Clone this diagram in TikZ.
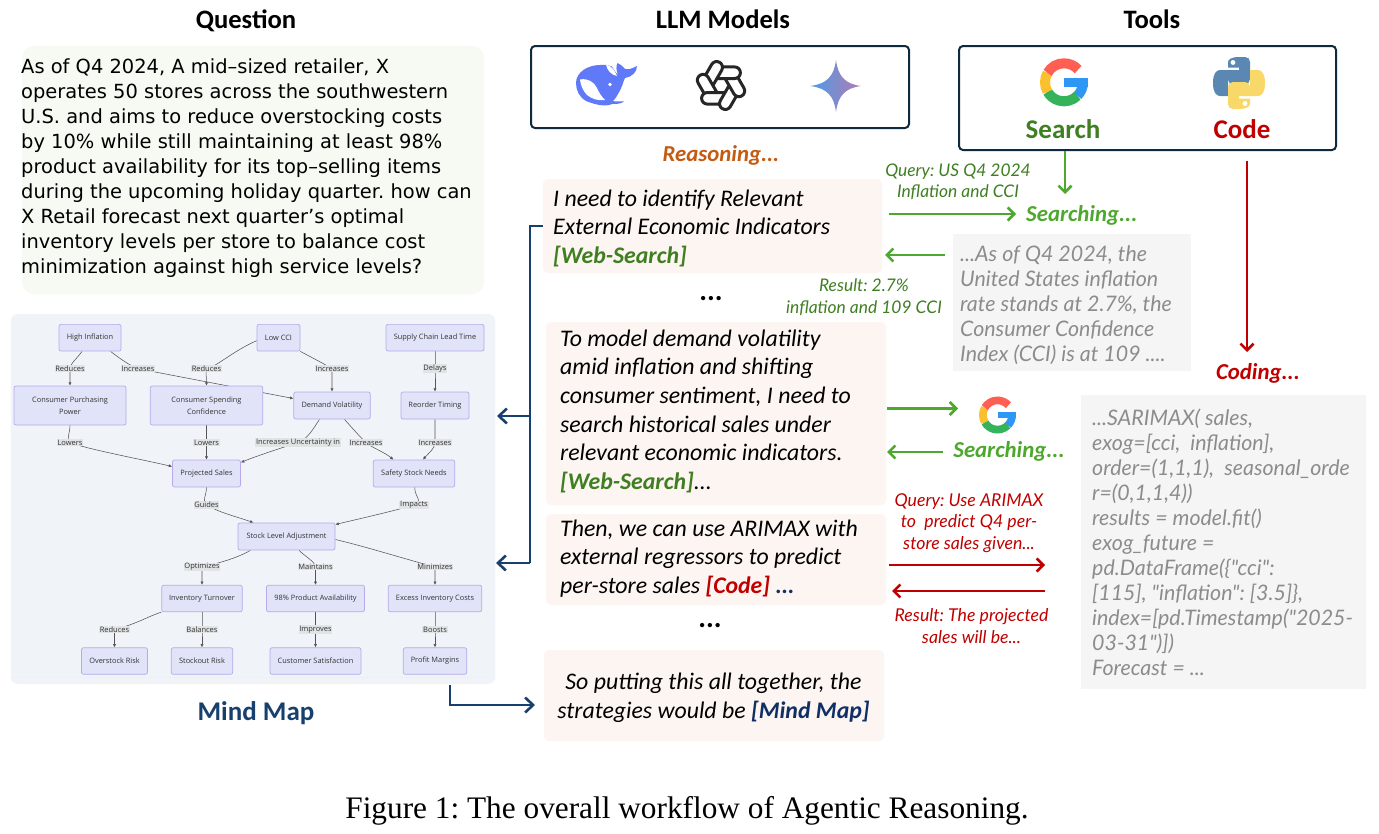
\documentclass[tikz,border=0pt]{standalone}
\usepackage{fontspec}
\setmainfont{Carlito}
\newfontfamily\osans{Open Sans}
\newfontfamily\dsans{DejaVu Sans}
\newfontfamily\lato{Lato}
\newfontfamily\capfont{Liberation Serif}
\usetikzlibrary{arrows.meta,calc}
\pgfdeclarelayer{edges}
\pgfsetlayers{edges,main}
\definecolor{panelbg}{HTML}{F0F4F8}
\definecolor{qbg}{HTML}{F6FAF3}
\definecolor{pinkbg}{HTML}{FDF5F1}
\definecolor{graybg}{HTML}{F5F5F5}
\definecolor{graytx}{HTML}{8C8C8C}
\definecolor{mmfill}{HTML}{E1E3F8}
\definecolor{mmline}{HTML}{B7A9EA}
\definecolor{mmedge}{HTML}{555555}
\definecolor{lblbg}{HTML}{E0E4E5}
\definecolor{navy}{HTML}{17406E}
\definecolor{dnavy}{HTML}{0F2F66}
\definecolor{boxline}{HTML}{0E2A3F}
\definecolor{greenA}{HTML}{4EA72E}
\definecolor{greenD}{HTML}{3F7F22}
\definecolor{redD}{HTML}{C00000}
\definecolor{orangeD}{HTML}{C55A11}
\definecolor{whaleblue}{HTML}{6079F8}
\definecolor{gred}{HTML}{FF5F52}
\definecolor{gyel}{HTML}{FBC02D}
\definecolor{ggrn}{HTML}{34B35A}
\definecolor{gblu}{HTML}{2E96F5}
\definecolor{pyblue}{HTML}{5A88B3}
\definecolor{pyyel}{HTML}{F8D869}
\definecolor{gemblue}{HTML}{4C9CE8}
\definecolor{gempurp}{HTML}{B27CB0}
\newcommand\googleicon[4]{%
  \begin{scope}[shift={(#1,#2)},x=#3pt,y=#3pt,line width=#4pt]
    \fill[gblu] (0,4.2) rectangle (24,-4.5);
    \draw[gblu] (19,0) arc (0:-45:19);
    \draw[ggrn] (-45:19) arc (-45:-150:19);
    \draw[gyel] (-150:19) arc (-150:-210:19);
    \draw[gred] (-210:19) arc (-210:-318:19);
  \end{scope}}
\tikzset{
  titletx/.style={font=\fontsize{26.6}{30}\selectfont\bfseries,text=black},
  panelbox/.style={fill=panelbg,rounded corners=7pt,draw=none,minimum width=484.5pt,minimum height=370pt,inner sep=0pt},
  mm/.style={draw=mmline,fill=mmfill,line width=.7pt,rounded corners=2pt,inner sep=0pt,align=center,text=black!80,font=\osans\fontsize{7.4}{11.6}\selectfont},
  lbl/.style={fill=lblbg,inner sep=.7pt,text=black!80,font=\osans\fontsize{7.5}{8}\selectfont},
  medge/.style={draw=mmedge,line width=.55pt,-{Latex[length=3.4pt,width=3.2pt]}},
  toolbox/.style={draw=boxline,line width=2pt,rounded corners=4pt,inner sep=0pt},
  reason/.style={fill=pinkbg,rounded corners=5pt,inner sep=0pt},
  reasontx/.style={font=\fontsize{23.8}{28.6}\selectfont\itshape,align=left,inner sep=0pt,anchor=north west,text=black},
  graybox/.style={fill=graybg,inner sep=0pt},
  graytext/.style={font=\lato\fontsize{21.4}{25}\selectfont\itshape,text=graytx,align=left,inner sep=0pt,anchor=north west},
  smallg/.style={font=\lato\fontsize{17.4}{21.5}\selectfont\itshape,text=greenD,align=center,inner sep=0pt},
  smallr/.style={font=\lato\fontsize{17.7}{21.6}\selectfont\itshape,text=redD,align=center,inner sep=0pt},
  status/.style={font=\fontsize{22.8}{26}\selectfont\bfseries\itshape,inner sep=0pt},
  dotstx/.style={font=\fontsize{29}{29}\selectfont\bfseries,inner sep=0pt},
  garrow/.style={draw=greenA,line width=2.6pt,-{Straight Barb[length=6.5pt,width=13pt]}},
  rarrow/.style={draw=redD,line width=2.6pt,-{Straight Barb[length=6.5pt,width=13pt]}},
  barrow/.style={draw=navy,line width=2.6pt,-{Straight Barb[length=8pt,width=15pt]}},
}
\begin{document}
\frenchspacing
\begin{tikzpicture}[x=1pt,y=-1pt]
\useasboundingbox (0,0) rectangle (1379,833);
\begin{pgfonlayer}{edges}
\fill[white] (0,0) rectangle (1379,833);
\end{pgfonlayer}

% titles
\node[titletx] (tq) at (246,21) {Question};
\node[titletx] (tl) at (723,19) {LLM Models};
\node[titletx] (tt) at (1152,19) {Tools};

% question
\node[fill=qbg,rounded corners=12pt,minimum width=462pt,minimum height=248pt,inner sep=0pt] (qbox) at (253,170) {};
\node[inner sep=0pt,anchor=north west,align=left,text=black,font=\dsans\fontsize{19.45}{25.05}\selectfont] (qtext) at (21,58.5) {As of Q4 2024, A mid–sized retailer, X\\operates 50 stores across the southwestern\\U.S. and aims to reduce overstocking costs\\by 10\% while still maintaining at least 98\%\\product availability for its top–selling items\\during the upcoming holiday quarter. how can\\X Retail forecast next quarter’s optimal\\inventory levels per store to balance cost\\minimization against high service levels?};

% mind map panel
\begin{pgfonlayer}{edges}
\node[panelbox] (panel) at (253,499) {};
\draw[draw=black!6,line width=1pt] (11,677) -- (488,677);
\end{pgfonlayer}

\node[mm,minimum width=62pt,minimum height=26.7pt] (hi) at (90,337.7) {High Inflation};
\node[mm,minimum width=43pt,minimum height=26.7pt] (lc) at (278.5,337.7) {Low CCI};
\node[mm,minimum width=98pt,minimum height=26.7pt] (sc) at (435,337.7) {Supply Chain Lead Time};
\node[mm,minimum width=112pt,minimum height=39pt] (cpp) at (70,405.5) {Consumer Purchasing\\Power};
\node[mm,minimum width=112.5pt,minimum height=39pt] (csc) at (206.5,405.5) {Consumer Spending\\Confidence};
\node[mm,minimum width=76.5pt,minimum height=27pt] (dv) at (332,405.5) {Demand Volatility};
\node[mm,minimum width=68pt,minimum height=27pt] (rt) at (435,405.5) {Reorder Timing};
\node[mm,minimum width=68pt,minimum height=27pt] (ps) at (206.5,473.5) {Projected Sales};
\node[mm,minimum width=81.5pt,minimum height=27pt] (ss) at (414,473.5) {Safety Stock Needs};
\node[mm,minimum width=97pt,minimum height=27pt] (sl) at (286.5,536.5) {Stock Level Adjustment};
\node[mm,minimum width=80.5pt,minimum height=26.5pt] (it) at (202,598.5) {Inventory Turnover};
\node[mm,minimum width=98pt,minimum height=26.5pt] (pa) at (315.5,598.5) {98\% Product Availability};
\node[mm,minimum width=93.5pt,minimum height=26.5pt] (ei) at (435,598.5) {Excess Inventory Costs};
\node[mm,minimum width=66pt,minimum height=26.5pt] (or) at (114.5,661) {Overstock Risk};
\node[mm,minimum width=61.5pt,minimum height=26.5pt] (sr) at (202,661) {Stockout Risk};
\node[mm,minimum width=91pt,minimum height=26.5pt] (cs) at (315.5,661) {Customer Satisfaction};
\node[mm,minimum width=63.5pt,minimum height=26.5pt] (pm) at (435,661) {Profit Margins};

\node[lbl] (l1) at (70,368.7) {Reduces};
\node[lbl] (l2) at (138,368.7) {Increases};
\node[lbl] (l3) at (206.5,368.7) {Reduces};
\node[lbl] (l4) at (332,368.7) {Increases};
\node[lbl] (l5) at (435,368.7) {Delays};
\node[lbl] (l6) at (70,442.7) {Lowers};
\node[lbl] (l7) at (206.5,442.7) {Lowers};
\node[lbl] (l8) at (298,442.7) {Increases Uncertainty in};
\node[lbl] (l9) at (366,442.7) {Increases};
\node[lbl] (l10) at (435,442.7) {Increases};
\node[lbl] (l11) at (206.5,505) {Guides};
\node[lbl] (l12) at (414,505) {Impacts};
\node[lbl] (l13) at (202,567) {Optimizes};
\node[lbl] (l14) at (315.5,567) {Maintains};
\node[lbl] (l15) at (435,567) {Minimizes};
\node[lbl] (l16) at (114.5,629.7) {Reduces};
\node[lbl] (l17) at (202,629.7) {Balances};
\node[lbl] (l18) at (315.5,629.7) {Improves};
\node[lbl] (l19) at (435,629.7) {Boosts};

\begin{pgfonlayer}{edges}
\draw[medge] ([xshift=-8pt]hi.south) .. controls +(-4,6) and +(0,-5) .. (l1.center) -- (cpp.north);
\draw[medge] ([xshift=20.5pt]hi.south) .. controls +(8,6) and +(-10,-4) .. (l2.center) -- ([yshift=7pt]dv.west);
\draw[medge] ([yshift=-3pt]lc.west) .. controls +(-25,11) and +(12,-3) .. (l3.center) .. controls +(-1,3) and +(0,-8) .. (csc.north);
\draw[medge] (lc.south east) .. controls +(15,8) and +(-8,-5) .. (l4.center) .. controls +(0,0) and +(0,-8) .. (dv.north);
\draw[medge] (sc.south) -- (l5.center) -- (rt.north);
\draw[medge] (cpp.south) .. controls +(0,8) and +(-4,-3) .. (l6.center) .. controls +(20,7) and +(-30,-7) .. ([yshift=7pt]ps.west);
\draw[medge] (csc.south) -- (l7.center) -- (ps.north);
\draw[medge] ([xshift=-12.5pt]dv.south) .. controls +(-6,9) and +(10,-4) .. (l8.center) .. controls +(-10,3) and +(14,-6) .. ([yshift=11pt]ps.east);
\draw[medge] ([xshift=12.5pt]dv.south) .. controls +(8,9) and +(-8,-8) .. (l9.center) .. controls +(8,6) and +(-10,-8) .. ([xshift=-20.5pt]ss.north);
\draw[medge] (rt.south) .. controls +(0,8) and +(0,-5) .. (l10.center) .. controls +(0,6) and +(5,-6) .. ([xshift=9pt]ss.north);
\draw[medge] (ps.south) .. controls +(0,8) and +(-5,-3) .. (l11.center) .. controls +(14,8) and +(-20,-7) .. ([xshift=-33pt]sl.north);
\draw[medge] ([xshift=.7pt]ss.south) .. controls +(0,10) and +(10,-3) .. (l12.center) .. controls +(-20,6) and +(25,-6) .. ([yshift=12pt]sl.east);
\draw[medge] ([xshift=-36pt]sl.south) .. controls +(-12,7) and +(18,-4) .. (l13.center) .. controls +(0,3) and +(0,-7) .. (it.north);
\draw[medge] ([xshift=12.5pt]sl.south) .. controls +(6,6) and +(0,-5) .. (l14.center) -- (pa.north);
\draw[medge] ([yshift=-3pt]sl.east) .. controls +(30,7) and +(-30,-8) .. (l15.center) .. controls +(0,0) and +(0,-8) .. (ei.north);
\draw[medge] (it.south west) .. controls +(-15,5) and +(25,-7) .. (l16.center) .. controls +(0,3) and +(0,-7) .. (or.north);
\draw[medge] (it.south) -- (l17.center) -- (sr.north);
\draw[medge] (pa.south) -- (l18.center) -- (cs.north);
\draw[medge] (ei.south) -- (l19.center) -- (pm.north);
\end{pgfonlayer}

\node[font=\fontsize{27}{30}\selectfont\bfseries,text=navy,inner sep=0pt] (mmt) at (256,713) {Mind Map};

% LLM box + icons
\node[toolbox,minimum width=378pt,minimum height=82pt] (llm) at (720,87) {};
\node[toolbox,minimum width=377pt,minimum height=104pt] (tools) at (1147.5,98) {};

% whale
\begin{scope}
\fill[whaleblue] (576,83) .. controls (576,72) and (588,65) .. (600,65) .. controls (605,64.5) and (608,65) .. (612,66.5) .. controls (614,70) and (616,73) .. (618,75) .. controls (616,70) and (616,66) .. (617.5,63) .. controls (621,64) and (623,67) .. (625,69) .. controls (629,70) and (633,68) .. (637,66) .. controls (637,72) and (632,77) .. (625,78) .. controls (623,82) and (622,88) .. (618,94) .. controls (616,98) and (614,100) .. (613,101) .. controls (616,102) and (620,101) .. (624,101.5) .. controls (621,104) and (616,104) .. (612,104) .. controls (606,107) and (596,105) .. (586,101) .. controls (579,97) and (576,90) .. (576,83) -- cycle;
\fill[white] (580,79.5) .. controls (588,78) and (594,82) .. (597,88) .. controls (599,93) and (602,97) .. (605,100) .. controls (598,101) and (592,99) .. (587,95) .. controls (583,91) and (580.5,85) .. (580,79.5) -- cycle;
\fill[white] (606,64.5) .. controls (612,66) and (615,71) .. (617,76) .. controls (611,75) and (607,70) .. (606,64.5) -- cycle;
\fill[white] (610,84.5) circle (1.8);
\end{scope}

% OpenAI knot
\begin{scope}[shift={(721,85.5)},y=1pt,line width=3pt,draw=black!85,line cap=round]
\foreach \a in {0,60,...,300}{
  \begin{scope}[rotate=\a]
    \draw (-4.04,7) -- (13.6,7) arc (-90:90:5.8) -- (1.5,18.6);
  \end{scope}}
\end{scope}

% Gemini star
\shade[left color=gemblue,right color=gempurp] (836,60) .. controls (838,76) and (845,84) .. (861,86) .. controls (845,88) and (838,96) .. (836,112) .. controls (834,96) and (827,88) .. (810,86) .. controls (827,84) and (834,76) .. (836,60) -- cycle;

% Google icon top
\googleicon{1064}{82.3}{1}{10}
\node[font=\fontsize{27}{30}\selectfont\bfseries,text=greenD,inner sep=0pt] (srch) at (1063,129) {Search};

% Python icon
\begin{scope}[shift={(1239,83)},y=1pt]
\fill[pyblue] (-1,26) -- (6,26) .. controls (9,26) and (11,24) .. (11,21) -- (11,4) .. controls (11,1) and (9,-1) .. (6,-1) -- (-6,-1) .. controls (-9,-1) and (-11,1) .. (-11,4) -- (-11,-13) -- (-19,-13) .. controls (-23,-13) and (-26,-9) .. (-26,0) .. controls (-26,9) and (-23,13) .. (-19,13) -- (0,13) -- (0,15.5) -- (-11,15.5) -- (-11,21) .. controls (-11,24) and (-6,26) .. (-1,26) -- cycle;
\fill[white] (-6,20.5) circle (2.4);
\fill[pyyel] (1,-26) -- (-6,-26) .. controls (-9,-26) and (-11,-24) .. (-11,-21) -- (-11,-4) .. controls (-11,-1) and (-9,1) .. (-6,1) -- (6,1) .. controls (9,1) and (11,-1) .. (11,-4) -- (11,13) -- (19,13) .. controls (23,13) and (26,9) .. (26,0) .. controls (26,-9) and (23,-13) .. (19,-13) -- (0,-13) -- (0,-15.5) -- (11,-15.5) -- (11,-21) .. controls (11,-24) and (6,-26) .. (1,-26) -- cycle;
\fill[white] (6,-20.5) circle (2.4);
\end{scope}
\node[font=\fontsize{27}{30}\selectfont\bfseries,text=redD,inner sep=0pt] (codet) at (1242,129) {Code};

\node[status,text=orangeD] (rsn) at (721,155) {Reasoning...};

% reasoning boxes
\node[reason,minimum width=339pt,minimum height=94pt] (b1) at (712.5,226) {};
\node[reasontx] (b1t) at (553,189.5) {I need to identify Relevant\\External Economic Indicators\\\textcolor{greenD}{\bfseries [Web-Search]}};
\node[dotstx] (dots1) at (711,299) {...};
\node[reason,minimum width=340pt,minimum height=183pt] (b2) at (716,413.5) {};
\node[reasontx] (b2t) at (560,329.5) {To model demand volatility\\amid inflation and shifting\\consumer sentiment, I need to\\search historical sales under\\relevant economic indicators.\\\textcolor{greenD}{\bfseries [Web-Search]}...};
\node[reason,minimum width=340pt,minimum height=91pt] (b3) at (716,559.5) {};
\node[reasontx] (b3t) at (560,519.5) {Then, we can use ARIMAX with\\external regressors to predict\\per-store sales \textcolor{redD}{\bfseries [Code]} \textcolor{dnavy}{\bfseries ...}};
\node[dotstx] (dots2) at (710,626) {...};
\node[reason,minimum width=340pt,minimum height=91pt] (b4) at (714,695.5) {};
\node[reasontx,anchor=center,align=center] (b4t) at (713.5,698) {So putting this all together, the\\strategies would be \textcolor{dnavy}{\bfseries [Mind Map]}};

% blue connectors
\coordinate (m1) at (497,416);
\coordinate (m2) at (496,563);
\coordinate (junc) at (530,416);
\coordinate (jtop) at (530,226);
\coordinate (jbot) at (530,563);
\draw[draw=navy,line width=2.6pt] (b1.west) -- (jtop) -- (jbot);
\draw[barrow] (junc) -- (m1);
\draw[barrow] (jbot) -- (m2);
\coordinate (m3) at (450,685);
\coordinate (m4) at (450,705);
\coordinate (m5) at (535,705);
\draw[barrow] (m3) -- (m4) -- (m5);

% search flow
\node[smallg] (q1) at (958,182) {Query: US Q4 2024\\Inflation and CCI};
\node[status,text=greenA,anchor=west] (sg1) at (1026,215) {Searching...};
\coordinate (tl1) at (1065,151);
\coordinate (tl2) at (1065,194);
\draw[garrow] (tl1) -- (tl2);
\coordinate (ga) at (889,214);
\coordinate (gb) at (1016,214);
\draw[garrow] (ga) -- (gb);
\node[graybox,minimum width=238pt,minimum height=137pt] (g1) at (1072,302.5) {};
\node[graytext] (g1t) at (960,245.5) {...As of Q4 2024, the\\United States inflation\\rate stands at 2.7\%, the\\Consumer Confidence\\Index (CCI) is at 109 ....};
\coordinate (gc) at (945,255);
\coordinate (gd) at (885,255);
\draw[garrow] (gc) -- (gd);
\node[smallg] (r1) at (864,297) {Result: 2.7\%\\inflation and 109 CCI};

% coding
\coordinate (cs1) at (1247,161);
\coordinate (cs2) at (1247,352);
\node[status,text=redD] (cdg) at (1258,373) {Coding...};
\draw[rarrow] (cs1) -- (cs2);
\node[graybox,minimum width=285pt,minimum height=294pt] (g2) at (1223.5,542) {};
\node[graytext] (g2t) at (1092,408.5) {...SARIMAX( sales,\\exog=[cci,\ \ inflation],\\order=(1,1,1),\ \ seasonal\_orde\\r=(0,1,1,4))\\results = model.fit()\\exog\_future =\\pd.DataFrame(\{"cci":\\{}[115], "inflation": [3.5]\},\\index=[pd.Timestamp("2025-\\03-31")])\\Forecast = ...};

% second search
\googleicon{997.5}{415}{.77}{7.7}
\node[status,text=greenA] (sg2) at (1009,451) {Searching...};
\coordinate (ge) at (887,408.5);
\coordinate (gf) at (958,408.5);
\coordinate (gg) at (943,452);
\coordinate (gh) at (887,452);
\draw[garrow] (ge) -- (gf);
\draw[garrow] (gg) -- (gh);

% code flow
\node[smallr] (q2) at (969,523) {Query: Use ARIMAX\\to\ \ predict Q4 per-\\store sales given...};
\coordinate (ra) at (889,565);
\coordinate (rb) at (1045,565);
\coordinate (rc) at (1045,591);
\coordinate (rd) at (892,591);
\draw[rarrow] (ra) -- (rb);
\draw[rarrow] (rc) -- (rd);
\node[smallr] (r2) at (971.5,626) {Result: The projected\\sales will be...};

\node[font=\capfont\fontsize{31.3}{34}\selectfont,inner sep=0pt,text=black] (cap) at (687,811) {Figure 1: The overall workflow of Agentic Reasoning.};
\end{tikzpicture}
\end{document}
